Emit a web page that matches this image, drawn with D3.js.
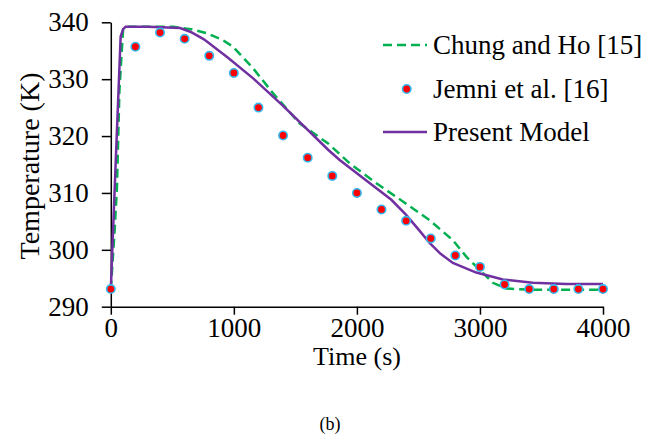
<!DOCTYPE html>
<html>
<head>
<meta charset="utf-8">
<script src="https://cdn.jsdelivr.net/npm/d3@7"></script>
<style>
  body { margin: 0; background: #fff; }
  svg text { font-family: "Liberation Serif", "Times New Roman", serif; fill: #000; }
</style>
</head>
<body>
<div id="chart"></div>
<script>
// Jemni et al. [16] experimental points
var jemniTime = [0, 200, 400, 600, 800, 1000, 1200, 1400, 1600, 1800, 2000, 2200, 2400, 2600, 2800, 3000, 3200, 3400, 3600, 3800, 4000];
var jemniTemp = [293.1, 335.7, 338.2, 337.1, 334.1, 331.1, 325.0, 320.1, 316.2, 313.0, 310.0, 307.1, 305.1, 302.0, 299.0, 297.0, 293.9, 293.1, 293.1, 293.1, 293.1];

// Chung and Ho [15]
var chungTime = [0, 30, 50, 70, 100, 130, 300, 507, 650, 778, 900, 994, 1157, 1319, 1536, 1766, 1942, 2158, 2374, 2591, 2780, 2889, 2997, 3105, 3213, 3400, 3600, 4000];
var chungTemp = [293, 303, 311, 328, 338.8, 339.2, 339.2, 339.2, 338.8, 338.1, 337.0, 335.7, 331.9, 327.5, 322.2, 318.7, 315.2, 311.7, 308.5, 305.2, 301.7, 298.8, 296.5, 294.2, 293.2, 293.0, 293.0, 293.0];

// Present Model
var modelTime = [0, 40, 80, 100, 120, 300, 563, 650, 757, 950, 1157, 1400, 1766, 1860, 2100, 2280, 2402, 2500, 2591, 2680, 2780, 2970, 3186, 3429, 3700, 4000];
var modelTemp = [293, 315.5, 337.5, 338.8, 339.2, 339.2, 339.0, 338.3, 337.0, 333.8, 330.15, 325.3, 317.6, 315.8, 311.8, 308.8, 306.1, 303.6, 301.2, 299.3, 297.7, 296.0, 294.8, 294.2, 294.0, 294.0];

var xTicks = [0, 1000, 2000, 3000, 4000];
var yTicks = [290, 300, 310, 320, 330, 340];

var seriesNames = ["Chung and Ho [15]", "Jemni et al. [16]", "Present Model"];

var W = 659, H = 438;
var margin = {top: 22.3, left: 110.8, right: 56, bottom: 131.3};
var width = W - margin.left - margin.right;
var height = H - margin.top - margin.bottom;
var serif = "'Liberation Serif', 'Times New Roman', serif";

var svg = d3.select("#chart").append("svg")
    .attr("width", W)
    .attr("height", H);

var g = svg.append("g")
    .attr("transform", "translate(" + margin.left + "," + margin.top + ")");

var x = d3.scaleLinear().domain([0, 4000]).range([0, width]);
var y = d3.scaleLinear().domain([290, 340]).range([height, 0]);

// axes
var xAxis = g.append("g")
    .attr("transform", "translate(0," + height + ")")
    .call(d3.axisBottom(x).tickValues(xTicks).tickFormat(d3.format("d"))
        .tickSize(8).tickPadding(3).tickSizeOuter(0));
var yAxis = g.append("g")
    .call(d3.axisLeft(y).tickValues(yTicks).tickFormat(d3.format("d"))
        .tickSize(9).tickPadding(13).tickSizeOuter(0));

[xAxis, yAxis].forEach(function (a) {
    a.attr("font-family", serif).attr("font-size", 27);
    a.select(".domain").attr("stroke", "#000").attr("stroke-width", 1.5);
    a.selectAll(".tick line").attr("stroke", "#000").attr("stroke-width", 1.5);
    a.selectAll(".tick text").attr("fill", "#000");
});

// lines
var line = d3.line()
    .x(function (d) { return x(d[0]); })
    .y(function (d) { return y(d[1]); });

var chung = chungTime.map(function (t, i) { return [t, chungTemp[i]]; });
var model = modelTime.map(function (t, i) { return [t, modelTemp[i]]; });
var jemni = jemniTime.map(function (t, i) { return [t, jemniTemp[i]]; });

g.append("path")
    .datum(chung)
    .attr("fill", "none")
    .attr("stroke", "#00B050")
    .attr("stroke-width", 2.5)
    .attr("stroke-dasharray", "9,5")
    .attr("d", line);

g.append("path")
    .datum(model)
    .attr("fill", "none")
    .attr("stroke", "#7030A0")
    .attr("stroke-width", 2.5)
    .attr("d", line);

g.selectAll("circle.pt")
    .data(jemni)
    .enter().append("circle")
    .attr("class", "pt")
    .attr("cx", function (d) { return x(d[0]); })
    .attr("cy", function (d) { return y(d[1]); })
    .attr("r", 4.2)
    .attr("fill", "#FF0000")
    .attr("stroke", "#33B8F0")
    .attr("stroke-width", 1.6);

// axis titles
svg.append("text")
    .attr("x", 357)
    .attr("y", 365)
    .attr("text-anchor", "middle")
    .style("font-size", "26px")
    .text("Time (s)");

svg.append("text")
    .attr("transform", "translate(39,166) rotate(-90)")
    .attr("text-anchor", "middle")
    .style("font-size", "28px")
    .text("Temperature (K)");

svg.append("text")
    .attr("x", 330)
    .attr("y", 430)
    .attr("text-anchor", "middle")
    .style("font-size", "18px")
    .text("(b)");

// legend
var legend = svg.append("g");
var ly = [45, 89, 132];

legend.append("line")
    .attr("x1", 383).attr("x2", 427)
    .attr("y1", ly[0]).attr("y2", ly[0])
    .attr("stroke", "#00B050")
    .attr("stroke-width", 2.5)
    .attr("stroke-dasharray", "9,5");

legend.append("circle")
    .attr("cx", 406.7).attr("cy", ly[1])
    .attr("r", 4.2)
    .attr("fill", "#FF0000")
    .attr("stroke", "#33B8F0")
    .attr("stroke-width", 1.6);

legend.append("line")
    .attr("x1", 383).attr("x2", 427)
    .attr("y1", ly[2]).attr("y2", ly[2])
    .attr("stroke", "#7030A0")
    .attr("stroke-width", 2.5);

legend.selectAll("text")
    .data(seriesNames)
    .enter().append("text")
    .attr("x", 433)
    .attr("y", function (d, i) { return ly[i]; })
    .attr("dy", "0.33em")
    .style("font-size", "27px")
    .text(function (d) { return d; });
</script>
</body>
</html>
